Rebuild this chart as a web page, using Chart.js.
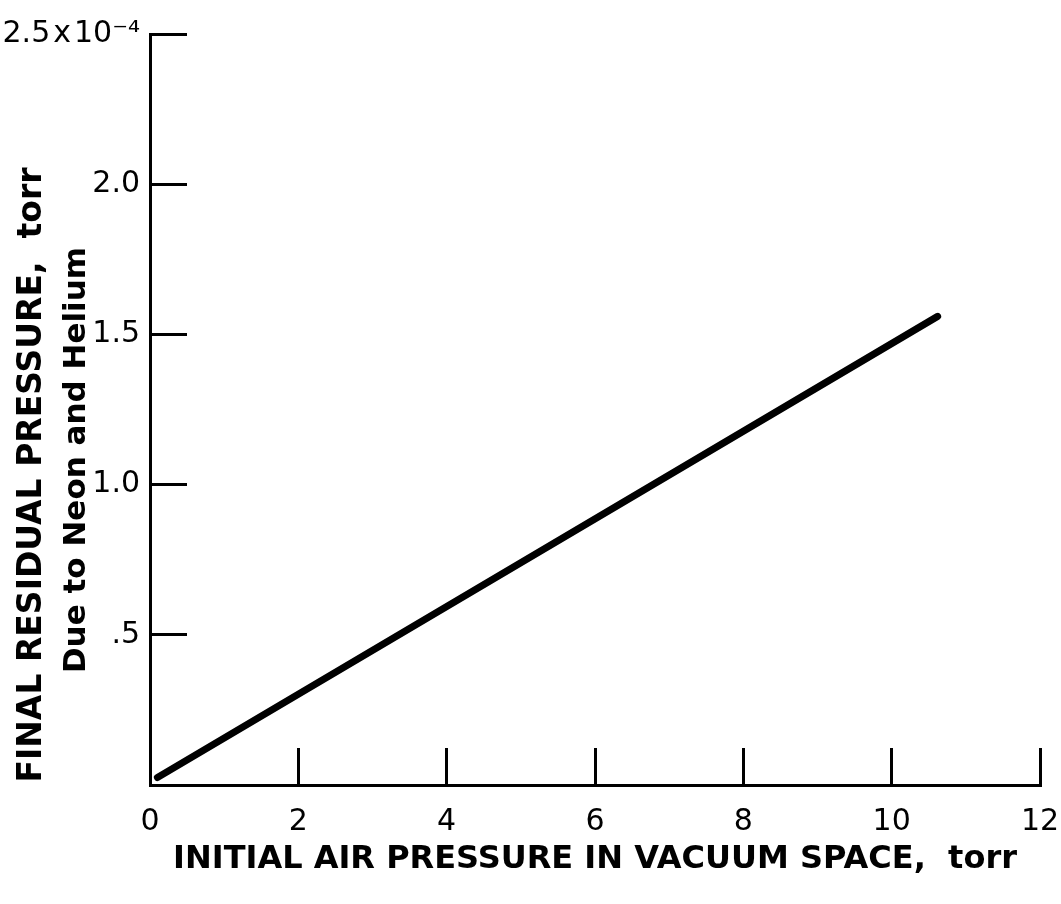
<!DOCTYPE html>
<html><head><meta charset="utf-8">
<script src="https://cdn.jsdelivr.net/npm/chart.js@4/dist/chart.umd.min.js"></script>
<style>html,body{margin:0;padding:0;background:#fff}#wrap{width:1061px;height:904px}</style>
</head><body><div id="wrap"><canvas id="c" width="1061" height="904"></canvas></div>
<script>
// Data (y in units of 10^-4 torr)
const xValues = [0.1, 10.62];
const yValues = [0.025, 1.56];
const xTickValues = [0, 2, 4, 6, 8, 10, 12];
const xTickLabels = ['0', '2', '4', '6', '8', '10', '12'];
const yTickValues = [0, 0.5, 1.0, 1.5, 2.0, 2.5];
const yTickLabels = ['', '.5', '1.0', '1.5', '2.0', '2.5\u200Ax\u200A10\u207B\u2074'];
const xTitle = 'INITIAL AIR PRESSURE IN VACUUM SPACE,  torr';
const yTitleLines = ['FINAL RESIDUAL PRESSURE,  torr', 'Due to Neon and Helium'];

const FONT = '"DejaVu Sans", "Liberation Sans", sans-serif';
const points = xValues.map((x, i) => ({x: x, y: yValues[i]}));

function drawRotated(ctx, text, x, y, size) {
  ctx.save();
  ctx.fillStyle = '#000';
  ctx.textAlign = 'center';
  ctx.textBaseline = 'middle';
  ctx.font = 'bold ' + size + 'px ' + FONT;
  ctx.translate(x, y);
  ctx.rotate(-Math.PI / 2);
  ctx.fillText(text, 0, 0);
  ctx.restore();
}

const yTitlePlugin = {
  id: 'yTitles',
  afterDraw(chart) {
    drawRotated(chart.ctx, yTitleLines[0], 32, 475, 33);
    drawRotated(chart.ctx, yTitleLines[1], 77, 460, 31);
  }
};

new Chart(document.getElementById('c'), {
  type: 'line',
  data: {
    datasets: [{
      data: points,
      borderColor: '#000',
      borderWidth: 7,
      borderCapStyle: 'round',
      pointRadius: 0,
      fill: false,
      tension: 0
    }]
  },
  options: {
    responsive: false,
    animation: false,
    devicePixelRatio: 1,
    layout: {padding: {top: 34, right: 21, left: 0, bottom: 0}},
    plugins: {legend: {display: false}, tooltip: {enabled: false}},
    scales: {
      x: {
        type: 'linear',
        min: 0, max: 12,
        afterBuildTicks(scale) { scale.ticks = xTickValues.map(v => ({value: v})); },
        afterFit(scale) { scale.height = 119; scale.paddingLeft = 0; scale.paddingRight = 0; },
        border: {display: true, color: '#000', width: 3},
        grid: {
          drawOnChartArea: false, drawTicks: true, tickLength: -37, tickWidth: 3,
          tickColor: ctx => (ctx.tick && ctx.tick.value === 0) ? 'rgba(0,0,0,0)' : '#000'
        },
        ticks: {
          color: '#000', padding: 56, maxRotation: 0, autoSkip: false,
          font: {family: FONT, size: 30},
          callback: v => { const i = xTickValues.indexOf(v); return i >= 0 ? xTickLabels[i] : ''; }
        },
        title: {
          display: true, text: xTitle, color: '#000',
          font: {family: FONT, size: 32, weight: 'bold'},
          padding: {top: 0, bottom: 25}
        }
      },
      y: {
        type: 'linear',
        min: 0, max: 2.5,
        afterBuildTicks(scale) { scale.ticks = yTickValues.map(v => ({value: v})); },
        afterFit(scale) { scale.width = 150; scale.paddingTop = 0; scale.paddingBottom = 0; },
        border: {display: true, color: '#000', width: 3},
        grid: {
          drawOnChartArea: false, drawTicks: true, tickLength: -37, tickWidth: 3,
          tickColor: ctx => (ctx.tick && ctx.tick.value === 0) ? 'rgba(0,0,0,0)' : '#000'
        },
        ticks: {
          color: '#000', padding: 47, autoSkip: false,
          font: {family: FONT, size: 30},
          callback: v => { const i = yTickValues.indexOf(v); return i >= 0 ? yTickLabels[i] : ''; }
        },
        title: {display: false}
      }
    }
  },
  plugins: [yTitlePlugin]
});
</script>
</body></html>
